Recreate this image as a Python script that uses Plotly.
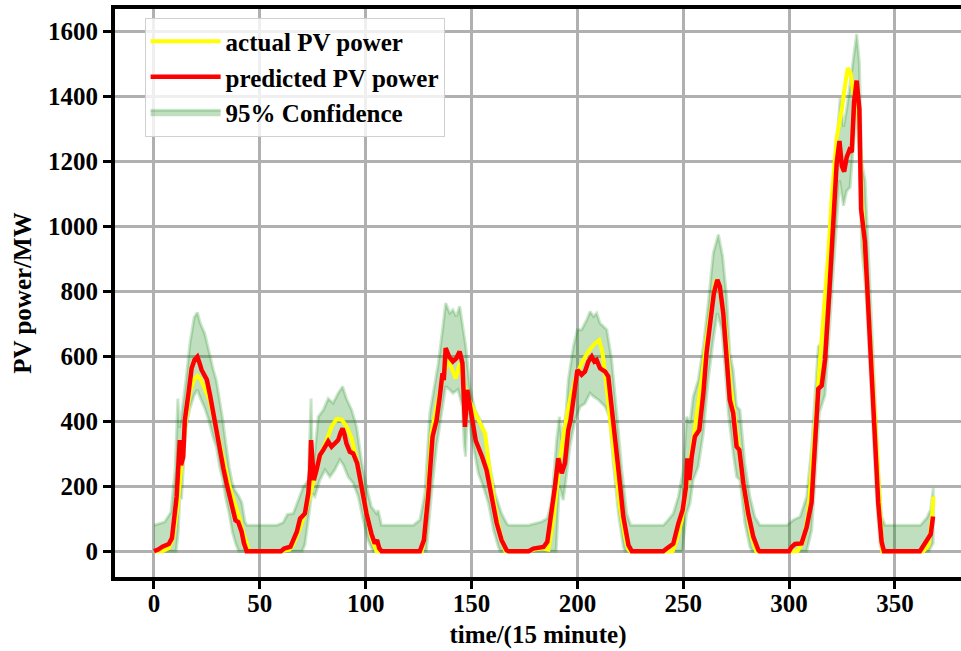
import plotly.graph_objects as go

# ---------------- data ----------------
pred_x = [0, 2, 4, 7, 8.5, 9.5, 10.7, 12.2, 12.8, 13.8, 14.6, 16.2, 17.8, 19.2, 20.5, 21.5, 22.5, 24, 25, 26.5, 28, 29.5,
          31.2, 32.8, 34.3, 36, 37.5, 38.5, 39.8, 40.5, 41.4, 42.5, 43.8,
          60, 61.5, 64.5, 66.5, 67.5, 69, 71.3, 72.9, 73.8, 74.2, 75, 75.5, 76.8, 78.4, 80, 82.3, 83.9, 85.4, 87, 88.2,
          89.1, 90, 90.9, 92.5, 94.1, 96, 98, 100.4, 102.7, 104.3, 105.4, 106.4, 107.5,
          125.6, 127.5, 129.5, 131.6, 133.5, 135, 136.3, 136.9, 137.8, 139.4, 141.2, 142.8, 144.4, 145.7, 146.5, 146.9,
          148, 149.4, 150.5, 152, 153.5, 155, 157.1, 159.5, 161.9, 164.2, 166.6, 167.5,
          177, 179.2, 184, 185.8, 187.9, 189.4, 191, 192.6, 194.1, 195.7, 196.8, 198.1, 200, 202, 203.6, 205.2, 206.8,
          208, 209.1, 210.7, 213.1, 214.6, 217, 219.4, 221.7, 224.1, 225.7,
          240.6, 242.2, 245.3, 247.7, 249.7, 251.3, 251.9, 252.9, 254, 255.5, 257.6, 259.5, 261, 262.9, 264.5, 266.1,
          267.3, 268.9, 270.5, 272, 273.6, 275.2, 276.5, 278.4, 280.7, 283.1, 285.5, 286,
          300, 301.2, 302.8, 305.9, 308.3, 310.6, 312.5, 313.8, 315.4, 317, 319, 320.9, 322.5, 323.8, 324.9, 326, 327.2,
          328.5, 329.6, 330.7, 331.9, 333.2, 334, 335.8, 337.4, 339, 340.6, 342.1, 343.7, 344.8,
          361.8, 365, 366.9, 368]
pred_y = [0, 5, 14, 22, 40, 90, 167, 342, 265, 290, 404, 480, 563, 590, 599, 580, 558, 540, 528, 480, 424, 370,
          311, 255, 209, 160, 117, 95, 90, 80, 60, 25, 0,
          0, 8, 14, 40, 60, 100, 116, 178, 250, 342, 230, 219, 250, 296, 312, 338, 322, 332, 342, 365,
          378, 360, 332, 306, 301, 270, 198, 116, 54, 24, 34, 9, 0,
          0, 34, 168, 353, 404, 476, 548, 527, 625, 599, 584, 594, 615, 579, 420, 383,
          497, 450, 400, 340, 310, 291, 250, 168, 86, 34, 3, 0,
          0, 8, 13, 29, 116, 198, 286, 240, 271, 373, 404, 476, 558, 543, 553, 584, 599,
          584, 589, 563, 553, 538, 404, 250, 106, 19, 0,
          0, 8, 23, 85, 126, 198, 286, 219, 291, 353, 373, 486, 610, 712, 795, 836,
          815, 733, 599, 466, 425, 322, 312, 209, 116, 44, 3, 0,
          0, 13, 22, 24, 74, 150, 360, 500, 510, 591, 800, 1031, 1197, 1263, 1186, 1169, 1213,
          1235, 1229, 1383, 1449, 1361, 1053, 954, 756, 536, 315, 150, 29, 0,
          0, 29, 52, 107]

actual_x = [0, 4, 7, 9, 11, 13, 15, 17, 19, 20.5, 22, 24, 26, 28, 30, 32, 34, 36, 38, 40, 42, 44, 45,
            60, 64, 65.8, 69, 72.1, 75.3, 78.4, 81.6, 83.9, 86.3, 88.7, 91, 93.4, 95.7, 98, 100.4, 102.7, 105.1,
            126.5, 128, 129.5, 131.1, 133.5, 136.6, 139, 140.5, 142.5, 144.4, 146.8, 149.9, 153, 156.4, 158.7, 161.1,
            163.5, 166,
            177, 180, 184, 186.3, 188.6, 190.2, 191.8, 194.1, 196.5, 198.9, 202, 205.2, 208.3, 210.3, 211.9, 213.4,
            215.3, 217.8, 220.1, 222.5, 224.1, 225,
            245, 246.9, 249.3, 251.6, 254, 256.3, 258.7, 261, 263.4, 265.4, 267.3, 269.7, 272, 274.4, 276.8, 279.6,
            282.3, 284.5,
            304, 306.7, 309.1, 311, 313.8, 316.2, 318.6, 320.1, 322.5, 324.9, 326.5, 327.7, 329.1, 330.4, 331.9, 333.2,
            334.3, 336.7, 339, 341.4, 343, 344,
            363.4, 365.8, 367.4, 368.2]
actual_y = [0, 0, 10, 40, 130, 280, 400, 490, 530, 540, 530, 500, 470, 420, 360, 300, 240, 190, 150, 110, 60, 15, 0,
            0, 5, 20, 71, 133, 219, 291, 342, 384, 407, 405, 384, 347, 281, 198, 116, 44, 0,
            0, 54, 219, 363, 445, 538, 590, 568, 532, 579, 500, 450, 410, 363, 240, 137,
            55, 0,
            0, 6, 8, 5, 96, 198, 281, 383, 466, 527, 579, 615, 640, 650, 610, 527,
            425, 271, 137, 44, 5, 0,
            0, 34, 96, 198, 322, 425, 527, 651, 764, 836, 805, 702, 527, 404, 271, 147,
            44, 0,
            0, 30, 120, 290, 514, 723, 921, 1086, 1274, 1361, 1438, 1488, 1471, 1405, 1440, 1300,
            1086, 844, 580, 315, 96, 0,
            0, 18, 96, 168]

upper_x = [0, 3, 5, 8, 10, 11.3, 12, 13, 15, 17, 19, 20.5, 22, 24, 26, 28, 29.5, 31, 32.5, 34, 35.5, 37, 38, 40,
           41.5, 43, 44,
           58, 61, 63, 65.8, 70.5, 72.9, 74.2, 74.8, 75.3, 77.6, 80, 82.3, 84.6, 87, 89.1, 90.9, 93.4, 95.7, 98,
           100.4, 102.7, 105.1, 105.9, 107.5,
           122.5, 125.6, 128, 130.3, 131.9, 134.3, 136.3, 137.8, 139.7, 141.2, 142.8, 144.4, 145.9, 147.3, 149.2,
           151.6, 154, 156.4, 158.7, 161.1, 164.2, 166.6, 167.5,
           177, 183.2, 185.8, 187.9, 190.2, 191.5, 192.6, 194.6, 195.7, 198.1, 200, 202, 204.4, 206, 207.6, 209.1,
           210.7, 213.9, 216.2, 218.6, 221, 223.3, 225.2,
           240.6, 242.2, 245.3, 247.7, 250, 251.6, 253.2, 254.7, 257.1, 259.5, 261.8, 264.2, 266.6, 268.6, 270.5,
           272, 273.6, 275.2, 276.8, 279.1, 281.5, 283.8, 286.2,
           299, 302, 305.2, 308.3, 310.7, 312.2, 313.8, 315.4, 317.8, 320.1, 322.5, 324.1, 325.7, 327.2, 328.8,
           330.4, 331.9, 333.2, 334.3, 335.9, 337.4, 339, 340.6, 342.1, 343.7, 345.3,
           362, 365, 366.9, 368.1]
upper_y = [80, 85, 90, 120, 250, 470, 380, 420, 520, 640, 720, 735, 700, 670, 610, 560, 525, 470, 405, 330, 260, 210,
           190, 170, 150, 90, 80,
           80, 88, 113, 116, 198, 219, 470, 300, 260, 414, 435, 470, 456, 486, 507, 470, 435, 384, 281,
           198, 137, 116, 126, 80,
           80, 96, 178, 425, 486, 579, 682, 764, 733, 743, 723, 754, 690, 630, 507,
           435, 404, 363, 260, 178, 116, 86, 80,
           80, 91, 101, 157, 342, 414, 342, 425, 527, 630, 682, 682, 712, 738, 723, 733,
           702, 682, 590, 425, 250, 116, 80,
           80, 91, 116, 168, 250, 414, 394, 476, 527, 630, 764, 918, 975, 908, 784,
           610, 558, 446, 435, 271, 168, 106, 80,
           80, 96, 106, 168, 322, 476, 630, 640, 836, 1035, 1252, 1395, 1307, 1362, 1439,
           1527, 1593, 1505, 1197, 1142, 932, 701, 448, 261, 107, 80,
           80, 102, 129, 195]

lower_x = [0, 10.5, 11.5, 12.2, 13, 14, 15, 17, 19, 20.5, 22, 24, 26, 28, 29.5, 31, 32.5, 34, 35.5, 37, 38.5, 40,
           70, 71.3, 72.9, 74.5, 76, 78.4, 80.8, 83.1, 85.4, 87.8, 89.4, 91.7, 94.1, 96.5, 98.8, 101.1, 103.5,
           128.7, 131.1, 133.5, 135.8, 137.8, 139.7, 141.2, 143.6, 145.7, 146.5, 147.2, 147.8, 148.5, 150, 151.5,
           153.2, 155.6, 158, 160.4, 162.7, 163.5,
           190, 191.5, 193.3, 194.6, 196.5, 198.9, 201.3, 203.6, 206, 207.6, 209.9, 213.1, 215.1, 217, 219.4, 221.7,
           222.5,
           249.5, 251.6, 253.2, 254.7, 257.1, 259.5, 261.8, 264.2, 266.1, 268.2, 269.7, 271.3, 273.6, 275.2, 276.8,
           279.1, 281.5, 282.5,
           308.3, 310.7, 312.3, 314.3, 317, 319.3, 321.7, 323.8, 325.7, 327.2, 328.8, 330.7, 331.9, 333.4, 334.3,
           336.3, 338.2, 339.8, 341.4, 343, 344,
           366, 368.1]
lower_y = [0, 0, 60, 170, 160, 250, 380, 440, 480, 496, 470, 440, 400, 350, 320, 260, 220, 160, 117, 60, 25, 0,
           0, 20, 96, 178, 168, 219, 250, 229, 250, 281, 266, 229, 209, 168, 96, 34, 0,
           0, 178, 322, 425, 507, 497, 486, 497, 445, 330, 291, 400, 425, 350, 300,
           240, 198, 147, 65, 13, 0,
           0, 200, 157, 219, 322, 404, 445, 455, 486, 476, 466, 445, 414, 271, 116, 13,
           0,
           0, 116, 147, 219, 260, 363, 527, 651, 733, 682, 568, 425, 301, 229, 219,
           86, 13, 0,
           0, 65, 206, 426, 481, 701, 943, 1142, 1064, 1109, 1120, 1285, 1373, 1175, 932,
           800, 580, 348, 150, 18, 0,
           0, 25]

x_ticks = [0, 50, 100, 150, 200, 250, 300, 350]
y_ticks = [0, 200, 400, 600, 800, 1000, 1200, 1400, 1600]

# ---------------- figure ----------------
FONT = "Liberation Serif"

fig = go.Figure()

band_x = upper_x + lower_x[::-1]
band_y = upper_y + lower_y[::-1]
fig.add_trace(go.Scatter(
    x=band_x, y=band_y, fill="toself", mode="lines",
    fillcolor="rgba(0,128,0,0.25)",
    line=dict(color="rgba(0,128,0,0.2)", width=3),
    name="95% Confidence", legendrank=3, hoverinfo="skip"))

fig.add_trace(go.Scatter(
    x=actual_x, y=actual_y, mode="lines", name="actual PV power",
    line=dict(color="#ffff00", width=4), legendrank=1))

fig.add_trace(go.Scatter(
    x=pred_x, y=pred_y, mode="lines", name="predicted PV power",
    line=dict(color="#ff0000", width=4.5), legendrank=2))

axis_common = dict(
    showgrid=True, gridcolor="#b0b0b0", gridwidth=3, zeroline=False,
    showline=True, linecolor="black", linewidth=4,
    ticks="outside", ticklen=8, tickwidth=3, tickcolor="black",
    tickfont=dict(family=FONT, size=25, color="black", weight="bold"),
)

fig.update_layout(
    width=961, height=651,
    margin=dict(l=115, r=0, t=9, b=74),
    paper_bgcolor="white", plot_bgcolor="white",
    showlegend=True,
    legend=dict(
        x=0.035, y=0.985, xanchor="left", yanchor="top",
        itemwidth=70,
        bgcolor="rgba(255,255,255,0.8)", bordercolor="#d0d0d0", borderwidth=1,
        font=dict(family=FONT, size=25, color="black", weight="bold"),
    ),
    xaxis=dict(
        range=[-18.4, 381.2], tickvals=x_ticks, mirror=True,
        ticklabelstandoff=-7,
        title=dict(text="time/(15 minute)", standoff=10,
                   font=dict(family=FONT, size=25, color="black", weight="bold")),
        **axis_common),
    yaxis=dict(
        range=[-79.5, 1669.5], tickvals=y_ticks, mirror=False,
        title=dict(text="PV power/MW", standoff=10,
                   font=dict(family=FONT, size=25, color="black", weight="bold")),
        **axis_common),
)

fig.write_html("out.html")
